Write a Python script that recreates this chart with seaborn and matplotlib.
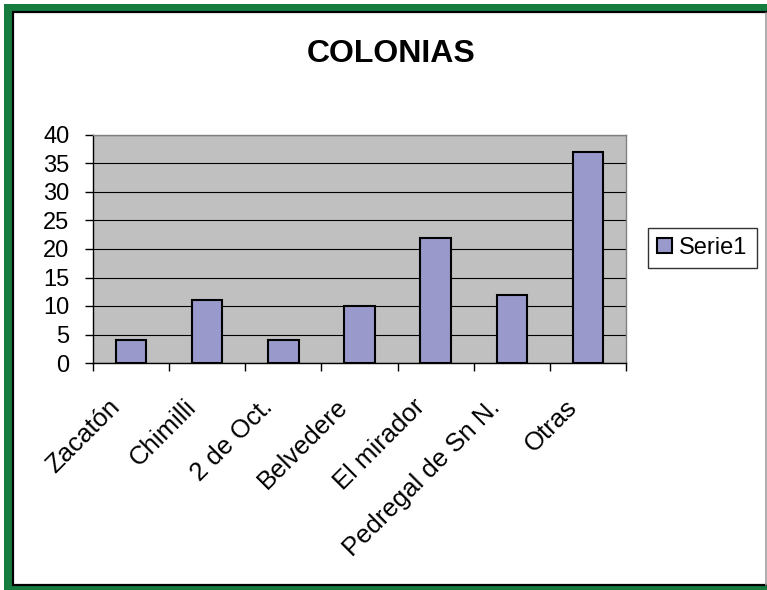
import seaborn as sns
import matplotlib.pyplot as plt
from matplotlib.patches import Rectangle
from matplotlib.lines import Line2D
from matplotlib.transforms import ScaledTranslation

# data
colonias = ['Zacatón', 'Chimilli', '2 de Oct.', 'Belvedere', 'El mirador',
            'Pedregal de Sn N.', 'Otras']
serie1 = [4, 11, 4, 10, 22, 12, 37]
y_ticks = [0, 5, 10, 15, 20, 25, 30, 35, 40]

sns.set_style('white')
plt.rcParams['font.family'] = ['Liberation Sans', 'DejaVu Sans']
plt.rcParams['text.color'] = 'black'
plt.rcParams['xtick.color'] = 'black'
plt.rcParams['ytick.color'] = 'black'

W, H = 767, 590
fig = plt.figure(figsize=(W / 100, H / 100), dpi=100)
fig.patch.set_facecolor('white')

# green frame round the chart, with the black inner line
fig.patches.append(Rectangle((4 / W, -0.01), 1.02, 1 - 4 / H + 0.01,
                             transform=fig.transFigure, facecolor='#167C3F',
                             edgecolor='none', zorder=-3))
fig.patches.append(Rectangle((13 / W, 5 / H), 0.99, (585 - 12) / H,
                             transform=fig.transFigure, facecolor='white',
                             edgecolor='black', linewidth=1.6, zorder=-2))
fig.lines.append(Line2D([766 / W, 766 / W], [5 / H, 1 - 13 / H],
                        transform=fig.transFigure, color='#A0A0A0',
                        linewidth=1.2, zorder=-1))

ax = fig.add_axes([93 / W, 1 - 363 / H, (626 - 93) / W, (363 - 135) / H])
ax.set_facecolor('#C0C0C0')

sns.barplot(x=colonias, y=serie1, color='#9999CC', saturation=1,
            edgecolor='black', linewidth=1.5, width=0.4, ax=ax,
            label='Serie1', zorder=3)
if ax.get_legend() is not None:
    ax.get_legend().remove()

ax.set_xlim(-0.5, len(colonias) - 0.5)
ax.set_ylim(0, 40)
ax.set_yticks(y_ticks)
ax.yaxis.grid(True, color='black', linewidth=0.8, zorder=1)
ax.set_axisbelow(True)

for side in ['left', 'bottom']:
    ax.spines[side].set_color('black')
    ax.spines[side].set_linewidth(1.0)
for side in ['top', 'right']:
    ax.spines[side].set_color('#808080')
    ax.spines[side].set_linewidth(1.0)

ax.tick_params(axis='y', which='major', direction='out', length=6,
               width=1, color='black', pad=11, labelsize=17, left=True)
ax.set_xticks(range(len(colonias)))
ax.set_xticklabels(colonias, rotation=45, ha='right', va='center',
                   rotation_mode='anchor', fontsize=18.5)
ax.set_xticks([i - 0.5 for i in range(len(colonias) + 1)], minor=True)
ax.tick_params(axis='x', which='major', length=0, pad=29)
ax.tick_params(axis='x', which='minor', direction='out', length=6,
               width=1, color='black', bottom=True)
shift = ScaledTranslation(-15 / 100, 0, fig.dpi_scale_trans)
for lab in ax.get_xticklabels():
    lab.set_transform(lab.get_transform() + shift)
ax.set_xlabel('')
ax.set_ylabel('')

fig.text(391 / W, 1 - 54 / H, 'COLONIAS', ha='center', va='center',
         fontsize=23, fontweight='bold')

leg = fig.legend(handles=[ax.containers[0]], labels=['Serie1'],
                 loc='center left', bbox_to_anchor=(648 / W, 1 - 248 / H),
                 fontsize=17, frameon=True, fancybox=False, shadow=False,
                 handlelength=0.6, handleheight=0.6, handletextpad=0.3,
                 borderpad=0.4, borderaxespad=0)
leg.get_frame().set_edgecolor('black')
leg.get_frame().set_linewidth(1.0)

fig.savefig('out.png', dpi=100)
